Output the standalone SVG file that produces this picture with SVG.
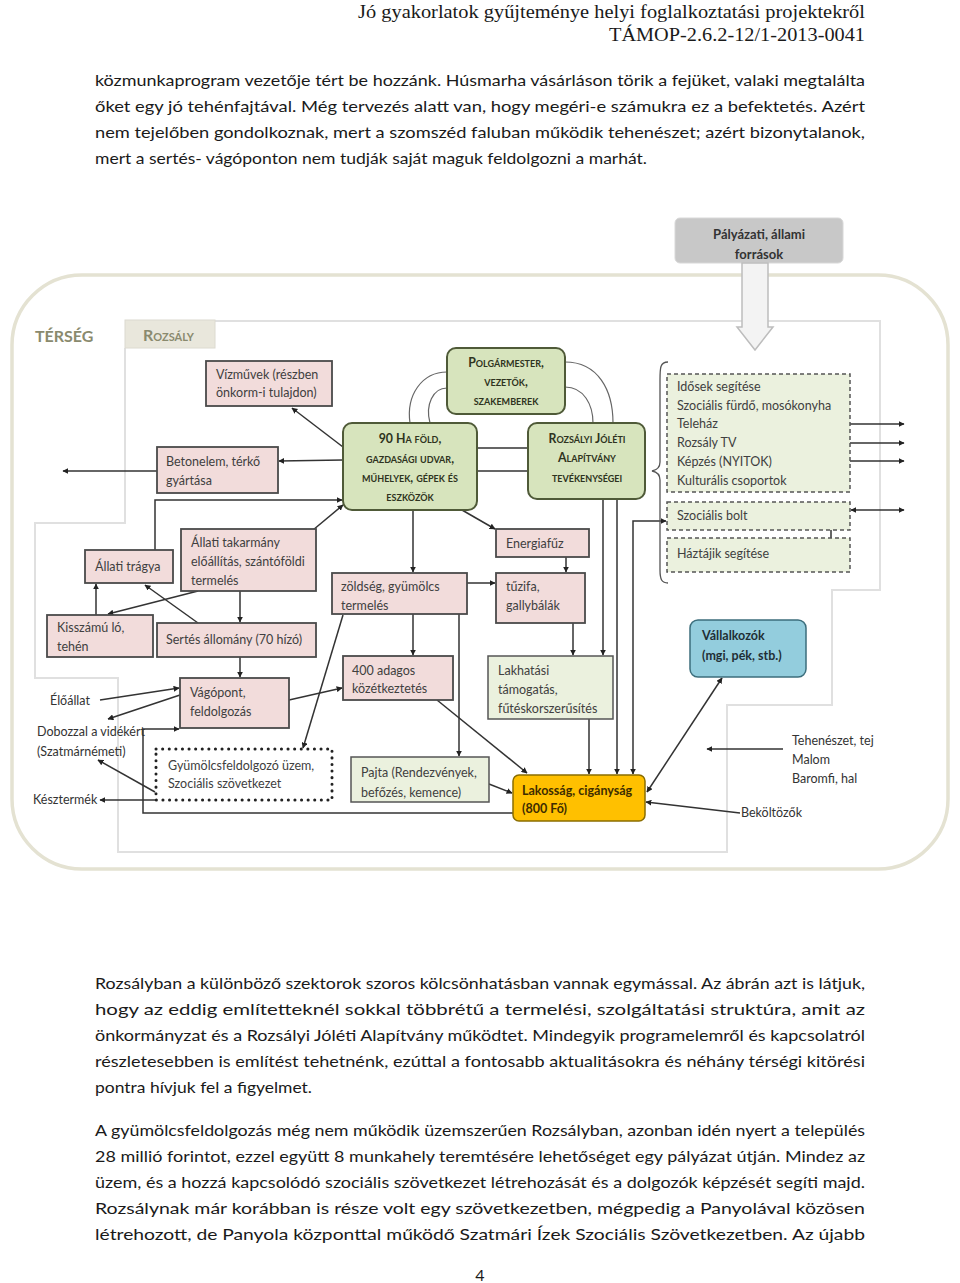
<svg xmlns="http://www.w3.org/2000/svg" width="960" height="1283" viewBox="0 0 960 1283">
<style>
.body{font-family:Lato,"Liberation Sans",sans-serif;font-size:16px;fill:#1a1a1a}
.hdr{font-family:"Liberation Serif",serif;font-size:19px;fill:#1a1a1a}
.pink{fill:#f2dcdb;stroke:#4a4a4a;stroke-width:1.8}
.lgreen{fill:#ebf1de;stroke:#555;stroke-width:1.5}
.dash{fill:#ebf1de;stroke:#555;stroke-width:1.5;stroke-dasharray:4 3}
.gnode{fill:#d7e4bd;stroke:#4f5a38;stroke-width:2}
.t{font-family:Lato,"Liberation Sans",sans-serif;font-size:12.5px;fill:#404040}
.gt{font-family:Lato,"Liberation Sans",sans-serif;font-size:12.3px;font-weight:bold;font-variant:small-caps;fill:#2e3320;text-anchor:middle}
.c{fill:none;stroke:#333;stroke-width:1.5}
.arc{fill:none;stroke:#666;stroke-width:1.2}
.lbl{font-family:Lato,"Liberation Sans",sans-serif;font-size:12.5px;fill:#333}
</style>
<defs>
<marker id="a" viewBox="0 0 10 10" refX="9" refY="5" markerWidth="6" markerHeight="6" markerUnits="userSpaceOnUse" orient="auto-start-reverse">
<path d="M0,0 L10,5 L0,10 z" fill="#222"/>
</marker>
</defs>

<!-- page header and text -->
<g id="header">
<text class="hdr" x="358" y="18" textLength="507" lengthAdjust="spacingAndGlyphs">Jó gyakorlatok gyűjteménye helyi foglalkoztatási projektekről</text>
<text class="hdr" x="609" y="41" textLength="256" lengthAdjust="spacingAndGlyphs">TÁMOP-2.6.2-12/1-2013-0041</text>
</g>
<g id="para1">
<text class="body" x="95" y="86" textLength="770" lengthAdjust="spacingAndGlyphs">közmunkaprogram vezetője tért be hozzánk. Húsmarha vásárláson törik a fejüket, valaki megtalálta</text>
<text class="body" x="95" y="112" textLength="770" lengthAdjust="spacingAndGlyphs">őket egy jó tehénfajtával. Még tervezés alatt van, hogy megéri-e számukra ez a befektetés. Azért</text>
<text class="body" x="95" y="138" textLength="770" lengthAdjust="spacingAndGlyphs">nem tejelőben gondolkoznak, mert a szomszéd faluban működik tehenészet; azért bizonytalanok,</text>
<text class="body" x="95" y="164" textLength="552" lengthAdjust="spacingAndGlyphs">mert a sertés- vágóponton nem tudják saját maguk feldolgozni a marhát.</text>
</g>

<!-- regions -->
<g id="tersig">
<rect x="12" y="275" width="936" height="594" rx="70" ry="70" fill="#fff" stroke="#e4e2d2" stroke-width="3.5"/>
<text x="35" y="342" font-family="Lato,'Liberation Sans',sans-serif" font-size="16" font-weight="bold" fill="#8a8a6e">TÉRSÉG</text>
</g>
<g id="rozsaly">
<path d="M125,348 L125,523 L35,523 L35,678 L118,678 L118,852 L727,852 L727,705 L832,705 L832,590 L880,590 L880,321 L215,321" fill="none" stroke="#e0e0e0" stroke-width="2"/>
<rect x="125" y="320" width="90" height="28" fill="#e9e7dc" stroke="#dcdad0" stroke-width="1"/>
<text x="143" y="341" font-family="Lato,'Liberation Sans',sans-serif" font-size="16" font-weight="bold" font-variant="small-caps" fill="#8a8a6e">Rozsály</text>
</g>

<!-- funding -->
<g id="palyazat">
<rect x="675" y="218" width="168" height="45" rx="5" fill="#c8c8c8" stroke="#d8d8d8"/>
<text x="759" y="239" text-anchor="middle" font-family="Lato,'Liberation Sans',sans-serif" font-size="13" font-weight="bold" fill="#333">Pályázati, állami</text>
<text x="759" y="259" text-anchor="middle" font-family="Lato,'Liberation Sans',sans-serif" font-size="13" font-weight="bold" fill="#333">források</text>
</g>
<g id="funding-arrow">
<polygon points="742,263 742,327 737,327 755,350 773,327 768,327 768,263" fill="#f3f3f3" stroke="#bdbdbd" stroke-width="1.5"/>
</g>

<!-- connectors -->
<g id="connectors">
<path class="arc" d="M447,372 C422,372 406,395 410,423"/>
<path class="arc" d="M447,388 C433,388 425,405 430,423"/>
<path class="arc" d="M565,362 C598,362 613,390 613,423"/>
<path class="arc" d="M565,387 C584,387 593,405 593,423"/>
<path class="c" d="M477,448 L528,448 M477,471 L528,471" stroke="#666"/>
<path class="c" d="M343,447 L292,408" marker-end="url(#a)"/>
<path class="c" d="M343,460 L279,461" marker-end="url(#a)"/>
<path class="c" d="M157,471 L63,471" marker-end="url(#a)"/>
<path class="c" d="M155,550 L155,500 L342,500" marker-end="url(#a)"/>
<path class="c" d="M313,530 L343,505" marker-end="url(#a)"/>
<path class="c" d="M96,615 L96,584" marker-end="url(#a)"/>
<path class="c" d="M198,591 L108,614" marker-end="url(#a)"/>
<path class="c" d="M198,623 L145,585" marker-end="url(#a)"/>
<path class="c" d="M240,591 L240,622" marker-end="url(#a)"/>
<path class="c" d="M240,657 L240,677" marker-end="url(#a)"/>
<path class="c" d="M100,700 L179,688" marker-end="url(#a)"/>
<path class="c" d="M180,695 L108,719" marker-end="url(#a)"/>
<path class="c" d="M513,813 L143,813 L143,729 L179,729" marker-end="url(#a)"/>
<path class="c" d="M343,615 L303,748" marker-end="url(#a)"/>
<path class="c" d="M155,792 L98,760" marker-end="url(#a)"/>
<path class="c" d="M155,800 L100,800" marker-end="url(#a)"/>
<path class="c" d="M289,700 L342,688" marker-end="url(#a)"/>
<path class="c" d="M462,510 L495,529" marker-end="url(#a)"/>
<path class="c" d="M413,510 L413,572" marker-end="url(#a)"/>
<path class="c" d="M566,557 L566,572" marker-end="url(#a)"/>
<path class="c" d="M467,583 L495,583" marker-end="url(#a)"/>
<path class="c" d="M413,614 L413,655" marker-end="url(#a)"/>
<path class="c" d="M459,614 L459,756" marker-end="url(#a)"/>
<path class="c" d="M573,623 L573,655" marker-end="url(#a)"/>
<path class="c" d="M603,499 L603,655" marker-end="url(#a)"/>
<path class="c" d="M617,499 L617,774" marker-end="url(#a)"/>
<path class="c" d="M589,719 L589,774" marker-end="url(#a)"/>
<path class="c" d="M633,774 L633,521 L666,521" marker-start="url(#a)" marker-end="url(#a)"/>
<path class="c" d="M489,784 L512,793" marker-end="url(#a)"/>
<path class="c" d="M437,700 L527,773" marker-end="url(#a)"/>
<path class="c" d="M647,792 L722,678" marker-start="url(#a)" marker-end="url(#a)"/>
<path class="c" d="M740,813 L646,802" marker-end="url(#a)"/>
<path class="c" d="M783,749 L707,749" marker-end="url(#a)"/>
<path class="c" d="M831,551 L831,524" marker-end="url(#a)"/>
<path class="c" d="M722,424 L904,424" marker-end="url(#a)"/>
<path class="c" d="M739,443 L904,443" marker-end="url(#a)"/>
<path class="c" d="M770,461 L904,461" marker-end="url(#a)"/>
<path class="c" d="M851,510 L904,510" marker-start="url(#a)" marker-end="url(#a)"/>
<path d="M668,362 C660,362 660,368 660,380 L660,462 C660,468 657,470 652,471 C657,472 660,474 660,480 L660,570 C660,580 662,583 668,583" fill="none" stroke="#555" stroke-width="1.3"/>
</g>

<!-- green nodes -->
<g id="polgarmester">
<rect class="gnode" x="447" y="348" width="118" height="66" rx="9"/>
<text class="gt" x="506" y="367">Polgármester,</text>
<text class="gt" x="506" y="386">vezetők,</text>
<text class="gt" x="506" y="405">szakemberek</text>
</g>
<g id="fold">
<rect class="gnode" x="343" y="423" width="134" height="87" rx="9"/>
<text class="gt" x="410" y="443">90 Ha föld,</text>
<text class="gt" x="410" y="463">gazdasági udvar,</text>
<text class="gt" x="410" y="482">műhelyek, gépek és</text>
<text class="gt" x="410" y="501">eszközök</text>
</g>
<g id="alapitvany">
<rect class="gnode" x="528" y="423" width="117" height="76" rx="9"/>
<text class="gt" x="587" y="443">Rozsályi Jóléti</text>
<text class="gt" x="587" y="462">Alapítvány</text>
<text class="gt" x="587" y="482">tevékenységei</text>
</g>

<!-- pink nodes -->
<g id="vizmuvek">
<rect class="pink" x="206" y="361" width="126" height="45"/>
<text class="t" x="216" y="379">Vízművek (részben</text>
<text class="t" x="216" y="397">önkorm-i tulajdon)</text>
</g>
<g id="betonelem">
<rect class="pink" x="157" y="447" width="121" height="46"/>
<text class="t" x="166" y="466">Betonelem, térkő</text>
<text class="t" x="166" y="485">gyártása</text>
</g>
<g id="tragya">
<rect class="pink" x="85" y="550" width="88" height="33"/>
<text class="t" x="95" y="571">Állati trágya</text>
</g>
<g id="takarmany">
<rect class="pink" x="181" y="529" width="135" height="62"/>
<text class="t" x="191" y="547">Állati takarmány</text>
<text class="t" x="191" y="566">előállítás, szántóföldi</text>
<text class="t" x="191" y="585">termelés</text>
</g>
<g id="kisszamu">
<rect class="pink" x="47" y="615" width="106" height="42"/>
<text class="t" x="57" y="632">Kisszámú ló,</text>
<text class="t" x="57" y="651">tehén</text>
</g>
<g id="sertes">
<rect class="pink" x="157" y="623" width="159" height="34"/>
<text class="t" x="166" y="644">Sertés állomány (70 hízó)</text>
</g>
<g id="vagopont">
<rect class="pink" x="180" y="678" width="109" height="50"/>
<text class="t" x="190" y="697">Vágópont,</text>
<text class="t" x="190" y="716">feldolgozás</text>
</g>
<g id="energiafuz">
<rect class="pink" x="496" y="529" width="93" height="28"/>
<text class="t" x="506" y="548">Energiafűz</text>
</g>
<g id="zoldseg">
<rect class="pink" x="332" y="573" width="135" height="41"/>
<text class="t" x="341" y="591">zöldség, gyümölcs</text>
<text class="t" x="341" y="610">termelés</text>
</g>
<g id="tuzifa">
<rect class="pink" x="496" y="573" width="89" height="50"/>
<text class="t" x="506" y="591">tűzifa,</text>
<text class="t" x="506" y="610">gallybálák</text>
</g>
<g id="kozetkeztetes">
<rect class="pink" x="343" y="656" width="110" height="44"/>
<text class="t" x="352" y="675">400 adagos</text>
<text class="t" x="352" y="693">közétkeztetés</text>
</g>

<!-- light green nodes -->
<g id="lakhatasi">
<rect class="lgreen" x="488" y="656" width="125" height="63"/>
<text class="t" x="498" y="675">Lakhatási</text>
<text class="t" x="498" y="694">támogatás,</text>
<text class="t" x="498" y="713">fűtéskorszerűsítés</text>
</g>
<g id="pajta">
<rect class="lgreen" x="351" y="757" width="138" height="45"/>
<text class="t" x="361" y="777">Pajta (Rendezvények,</text>
<text class="t" x="361" y="797">befőzés, kemence)</text>
</g>
<g id="gyumolcsfeldolgozo">
<rect x="156" y="749" width="176" height="51" fill="#fff" stroke="#222" stroke-width="3" stroke-dasharray="0.1 6.5" stroke-linecap="round"/>
<text class="t" x="168" y="770">Gyümölcsfeldolgozó üzem,</text>
<text class="t" x="168" y="788">Szociális szövetkezet</text>
</g>

<!-- population / entrepreneurs -->
<g id="lakossag">
<rect x="513" y="775" width="132" height="46" rx="6" fill="#ffc000" stroke="#8a6d00" stroke-width="1.5"/>
<text x="522" y="795" font-family="Lato,'Liberation Sans',sans-serif" font-size="12.5" font-weight="bold" fill="#3d2c00">Lakosság, cigányság</text>
<text x="522" y="813" font-family="Lato,'Liberation Sans',sans-serif" font-size="12.5" font-weight="bold" fill="#3d2c00">(800 Fő)</text>
</g>
<g id="vallalkozok">
<rect x="690" y="620" width="116" height="57" rx="8" fill="#93cddd" stroke="#3c6e7c" stroke-width="1.5"/>
<text x="702" y="640" font-family="Lato,'Liberation Sans',sans-serif" font-size="12.5" font-weight="bold" fill="#1f2f35">Vállalkozók</text>
<text x="702" y="660" font-family="Lato,'Liberation Sans',sans-serif" font-size="12.5" font-weight="bold" fill="#1f2f35">(mgi, pék, stb.)</text>
</g>

<!-- right dashed boxes -->
<g id="szolgaltatasok">
<rect class="dash" x="667" y="374" width="183" height="118"/>
<text class="t" x="677" y="391">Idősek segítése</text>
<text class="t" x="677" y="410">Szociális fürdő, mosókonyha</text>
<text class="t" x="677" y="428">Teleház</text>
<text class="t" x="677" y="447">Rozsály TV</text>
<text class="t" x="677" y="466">Képzés (NYITOK)</text>
<text class="t" x="677" y="485">Kulturális csoportok</text>
</g>
<g id="szocialisbolt">
<rect class="dash" x="667" y="502" width="183" height="28"/>
<text class="t" x="677" y="520">Szociális bolt</text>
</g>
<g id="haztaji">
<rect class="dash" x="667" y="538" width="183" height="34"/>
<text class="t" x="677" y="558">Háztájik segítése</text>
</g>

<!-- outside labels -->
<g id="labels">
<text class="lbl" x="50" y="705">Élőállat</text>
<text class="lbl" x="37" y="736">Dobozzal a vidékért</text>
<text class="lbl" x="37" y="756">(Szatmárnémeti)</text>
<text class="lbl" x="33" y="804">Késztermék</text>
<text class="lbl" x="792" y="745">Tehenészet, tej</text>
<text class="lbl" x="792" y="764">Malom</text>
<text class="lbl" x="792" y="783">Baromfi, hal</text>
<text class="lbl" x="741" y="817">Beköltözők</text>
</g>

<g id="para2">
<text class="body" x="95" y="989" textLength="770" lengthAdjust="spacingAndGlyphs">Rozsályban a különböző szektorok szoros kölcsönhatásban vannak egymással. Az ábrán azt is látjuk,</text>
<text class="body" x="95" y="1015" textLength="770" lengthAdjust="spacingAndGlyphs">hogy az eddig említetteknél sokkal többrétű a termelési, szolgáltatási struktúra, amit az</text>
<text class="body" x="95" y="1041" textLength="770" lengthAdjust="spacingAndGlyphs">önkormányzat és a Rozsályi Jóléti Alapítvány működtet. Mindegyik programelemről és kapcsolatról</text>
<text class="body" x="95" y="1067" textLength="770" lengthAdjust="spacingAndGlyphs">részletesebben is említést tehetnénk, ezúttal a fontosabb aktualitásokra és néhány térségi kitörési</text>
<text class="body" x="95" y="1093" textLength="217" lengthAdjust="spacingAndGlyphs">pontra hívjuk fel a figyelmet.</text>
</g>
<g id="para3">
<text class="body" x="95" y="1136" textLength="770" lengthAdjust="spacingAndGlyphs">A gyümölcsfeldolgozás még nem működik üzemszerűen Rozsályban, azonban idén nyert a település</text>
<text class="body" x="95" y="1162" textLength="770" lengthAdjust="spacingAndGlyphs">28 millió forintot, ezzel együtt 8 munkahely teremtésére lehetőséget egy pályázat útján. Mindez az</text>
<text class="body" x="95" y="1188" textLength="770" lengthAdjust="spacingAndGlyphs">üzem, és a hozzá kapcsolódó szociális szövetkezet létrehozását és a dolgozók képzését segíti majd.</text>
<text class="body" x="95" y="1214" textLength="770" lengthAdjust="spacingAndGlyphs">Rozsálynak már korábban is része volt egy szövetkezetben, mégpedig a Panyolával közösen</text>
<text class="body" x="95" y="1240" textLength="770" lengthAdjust="spacingAndGlyphs">létrehozott, de Panyola központtal működő Szatmári Ízek Szociális Szövetkezetben. Az újabb</text>
</g>
<g id="pagenum">
<text class="body" x="480" y="1281" text-anchor="middle">4</text>
</g>
</svg>
